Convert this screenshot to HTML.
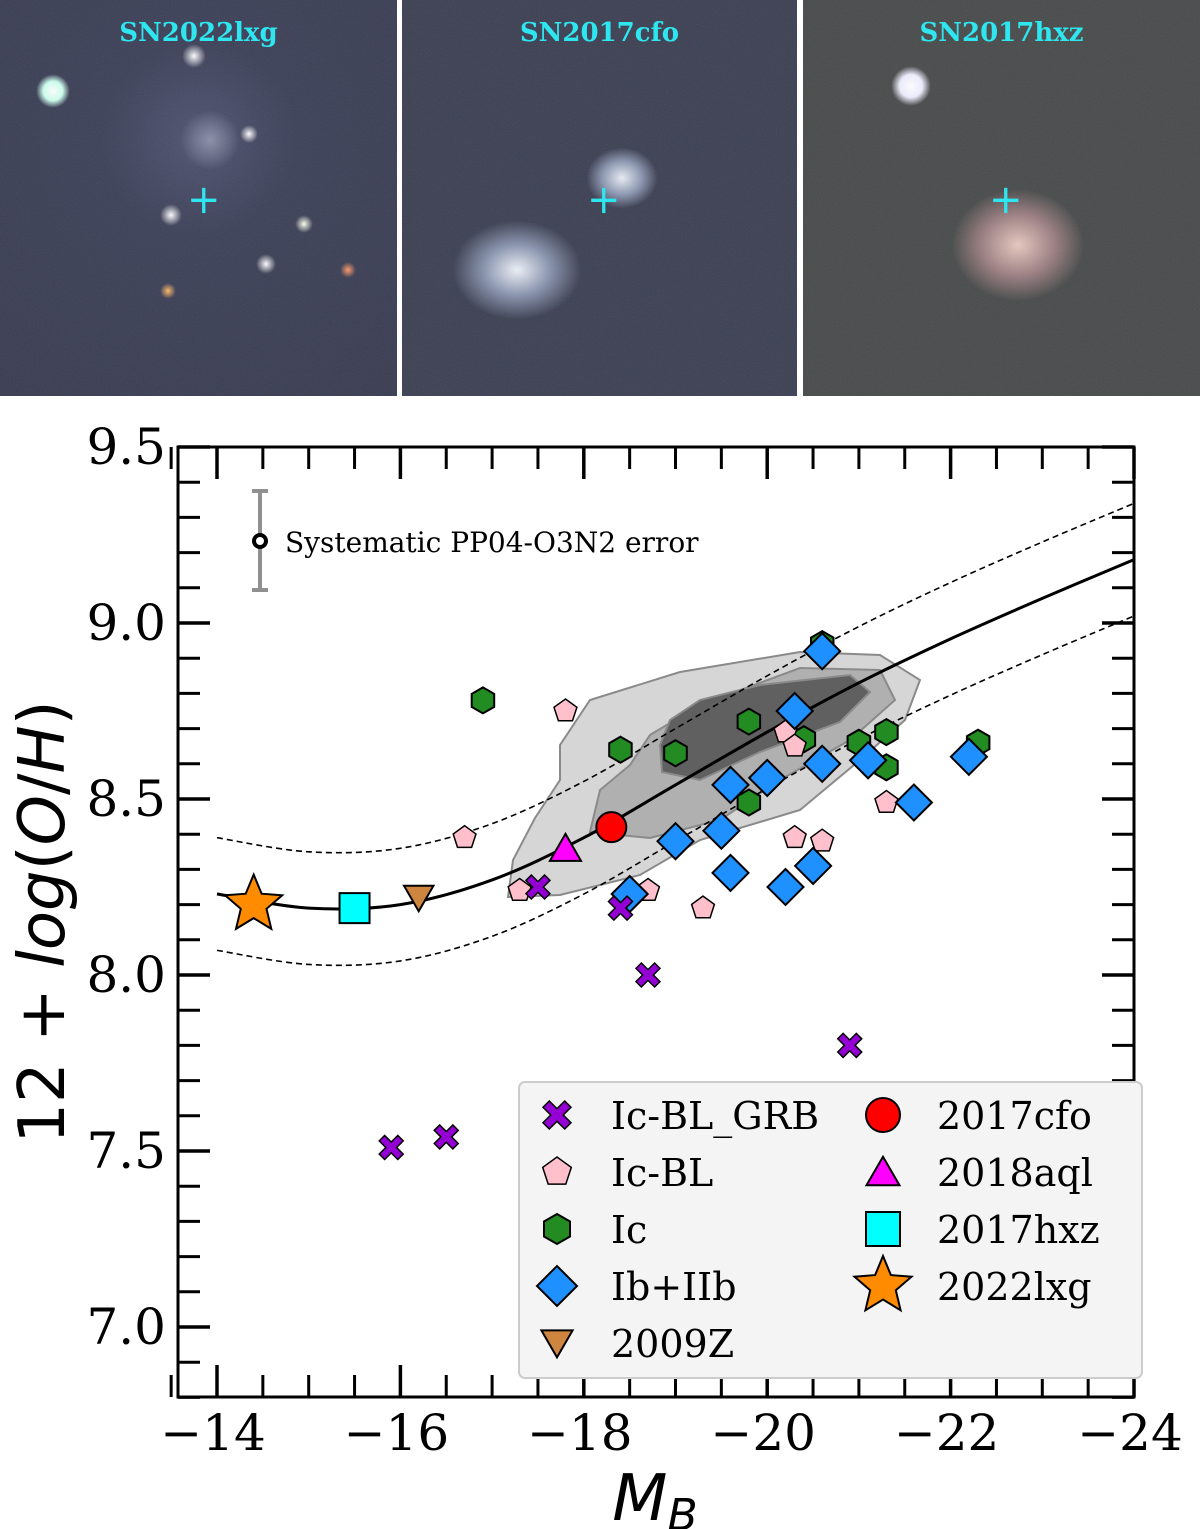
<!DOCTYPE html>
<html><head><meta charset="utf-8"><style>
body{margin:0;background:#fff;width:1200px;height:1529px;overflow:hidden;font-family:"DejaVu Sans","Liberation Sans",sans-serif}
.panel{position:absolute;top:0;height:396px;overflow:hidden}
.lab{position:absolute;top:18px;width:100%;text-align:center;color:#2ee6f0;font:bold 26px "DejaVu Serif","Liberation Serif",serif;z-index:3}
.cross{position:absolute;color:#2ee6f0;font:40px "DejaVu Sans",sans-serif;line-height:1;z-index:3}
.noise{position:absolute;left:0;top:0;opacity:0.12;z-index:2}
</style></head><body>
<div class="panel" style="left:0;width:397px;background:radial-gradient(circle at 50% 35%,#4e5370 0%,#3b3f57 30%,#383b50 100%)">
 <div style="position:absolute;left:36px;top:74px;width:34px;height:34px;border-radius:50%;background:radial-gradient(#fff,#cfe 40%,rgba(200,220,240,0) 70%)"></div>
 <div style="position:absolute;left:182px;top:44px;width:24px;height:24px;border-radius:50%;background:radial-gradient(#fff,rgba(220,220,240,0) 70%)"></div>
 <div style="position:absolute;left:180px;top:110px;width:60px;height:60px;border-radius:50%;background:radial-gradient(#8a8fa8,rgba(90,95,120,0) 70%)"></div>
 <div style="position:absolute;left:160px;top:204px;width:22px;height:22px;border-radius:50%;background:radial-gradient(#fff,rgba(255,220,180,0) 70%)"></div>
 <div style="position:absolute;left:256px;top:254px;width:20px;height:20px;border-radius:50%;background:radial-gradient(#fff,rgba(200,220,255,0) 70%)"></div>
 <div style="position:absolute;left:240px;top:125px;width:18px;height:18px;border-radius:50%;background:radial-gradient(#fff,rgba(200,220,255,0) 70%)"></div>
 <div style="position:absolute;left:295px;top:215px;width:18px;height:18px;border-radius:50%;background:radial-gradient(#ffe,rgba(255,240,180,0) 70%)"></div>
 <div style="position:absolute;left:160px;top:283px;width:16px;height:16px;border-radius:50%;background:radial-gradient(#fb6,rgba(255,160,80,0) 70%)"></div>
 <div style="position:absolute;left:340px;top:262px;width:16px;height:16px;border-radius:50%;background:radial-gradient(#f96,rgba(255,130,80,0) 70%)"></div>
 <svg class="noise" width="397" height="396"><filter id="n1"><feTurbulence type="fractalNoise" baseFrequency="0.9" numOctaves="2"/></filter><rect width="397" height="396" filter="url(#n1)"/></svg>
 <div class="lab">SN2022lxg</div>
 <div class="cross" style="left:187px;top:180px">+</div>
</div>
<div class="panel" style="left:402px;width:395px;background:#3b3f52">
 <div style="position:absolute;left:185px;top:148px;width:70px;height:60px;border-radius:50%;background:radial-gradient(#e8eef5,#8a95b0 40%,rgba(60,65,85,0) 72%)"></div>
 <div style="position:absolute;left:50px;top:220px;width:130px;height:100px;border-radius:50%;background:radial-gradient(#eef2f8,#8a95b0 35%,rgba(60,65,85,0) 70%)"></div>
 <svg class="noise" width="395" height="396"><rect width="395" height="396" filter="url(#n1)"/></svg>
 <div class="lab">SN2017cfo</div>
 <div class="cross" style="left:185px;top:180px">+</div>
</div>
<div class="panel" style="left:803px;width:397px;background:#474a4a">
 <div style="position:absolute;left:88px;top:66px;width:40px;height:40px;border-radius:50%;background:radial-gradient(#fff,#eef 40%,rgba(200,200,200,0) 70%)"></div>
 <div style="position:absolute;left:150px;top:190px;width:130px;height:110px;border-radius:50%;background:radial-gradient(#e8c8c0,#9a7d80 40%,rgba(70,72,72,0) 72%)"></div>
 <svg class="noise" width="397" height="396"><rect width="397" height="396" filter="url(#n1)"/></svg>
 <div class="lab">SN2017hxz</div>
 <div class="cross" style="left:186px;top:180px">+</div>
</div>
<svg id="chart" width="1200" height="1529" style="position:absolute;left:0;top:0" xmlns="http://www.w3.org/2000/svg"></svg>
<script>
const NS="http://www.w3.org/2000/svg";
const svg=document.getElementById('chart');
const grbX=[-15.9,-16.5,-17.5,-18.4,-18.7,-20.9];
const grbY=[7.51,7.54,8.25,8.19,8.00,7.80];
const icblX=[-16.7,-17.3,-17.8,-18.7,-19.3,-20.2,-20.3,-20.3,-20.6,-21.3];
const icblY=[8.39,8.24,8.75,8.24,8.19,8.69,8.65,8.39,8.38,8.49];
const icX=[-16.9,-18.4,-19.0,-19.8,-19.8,-20.4,-20.6,-21.0,-21.3,-21.3,-22.3];
const icY=[8.78,8.64,8.63,8.72,8.49,8.67,8.94,8.66,8.69,8.59,8.66];
const ibX=[-20.6,-20.3,-19.6,-20.0,-20.6,-21.1,-21.6,-22.2,-19.0,-19.5,-18.5,-19.6,-20.2,-20.5];
const ibY=[8.92,8.75,8.54,8.56,8.60,8.61,8.49,8.62,8.38,8.41,8.23,8.29,8.25,8.31];
const fitX=[-14,-15,-16,-17,-18,-19,-20,-21,-22,-23,-24];
const fitY=[8.23,8.19,8.20,8.27,8.39,8.54,8.69,8.83,8.955,9.07,9.18];
const fitOffset=0.16;
const xTicks=[-14,-16,-18,-20,-22,-24];
const yTicks=[7.0,7.5,8.0,8.5,9.0,9.5];
const X0=178,X1=1134,Y0=447,Y1=1397;
const sx=m=>217+(-14-m)*91.7;
const sy=v=>447+(9.5-v)*352;
function el(t,a,p){const e=document.createElementNS(NS,t);for(const k in a)e.setAttribute(k,a[k]);(p||svg).appendChild(e);return e;}
const cont=[["#d6d6d6","M508,897 L513,860 535,818 560,780 560,745 590,700 680,672 800,652 880,655 920,680 905,720 860,760 800,810 700,840 640,875 560,895Z"],
["#b0b0b0","M590,832 L600,790 630,765 650,735 700,705 800,668 880,670 895,700 850,740 780,780 720,820 650,838Z"],
["#606060","M660,745 L670,720 700,700 760,685 850,675 870,692 840,722 760,752 700,780 662,772Z"]];
cont.forEach(c=>{const p=el('path',{d:c[1],fill:c[0],stroke:'#8a8a8a','stroke-width':2});

});
function smoothFit(off){const pts=[];for(let i=0;i<fitX.length;i++)pts.push([sx(fitX[i]),sy(fitY[i]+off)]);
let d='M'+pts[0][0]+','+pts[0][1];for(let i=0;i<pts.length-1;i++){const p0=pts[Math.max(i-1,0)],p1=pts[i],p2=pts[i+1],p3=pts[Math.min(i+2,pts.length-1)];
d+=' C'+(p1[0]+(p2[0]-p0[0])/6)+','+(p1[1]+(p2[1]-p0[1])/6)+' '+(p2[0]-(p3[0]-p1[0])/6)+','+(p2[1]-(p3[1]-p1[1])/6)+' '+p2[0]+','+p2[1];}return d;}
let fl=el('path',{d:smoothFit(0),fill:'none',stroke:'#000','stroke-width':3});


[fitOffset,-fitOffset].forEach(o=>{const p=el('path',{d:smoothFit(o),fill:'none',stroke:'#000','stroke-width':1.6,'stroke-dasharray':'6,4'});

});
function poly(cx,cy,n,r,rot){let s=[];for(let i=0;i<n;i++){const a=rot+i*2*Math.PI/n;s.push((cx+r*Math.cos(a)).toFixed(1)+','+(cy+r*Math.sin(a)).toFixed(1));}return s.join(' ');}
function marker(type,cx,cy,s){
 if(type==='x'){const r=s,w=s*0.45;return el('path',{d:`M${cx-r},${cy-r+w}L${cx-r+w},${cy-r}L${cx},${cy-w}L${cx+r-w},${cy-r}L${cx+r},${cy-r+w}L${cx+w},${cy}L${cx+r},${cy+r-w}L${cx+r-w},${cy+r}L${cx},${cy+w}L${cx-r+w},${cy+r}L${cx-r},${cy+r-w}L${cx-w},${cy}Z`,fill:'#9400d3',stroke:'#000','stroke-width':1.5});}
 if(type==='pent')return el('polygon',{points:poly(cx,cy,5,s,-Math.PI/2),fill:'#ffc0cb',stroke:'#000','stroke-width':1.5});
 if(type==='hex')return el('polygon',{points:poly(cx,cy,6,s,-Math.PI/2),fill:'#228b22',stroke:'#000','stroke-width':2});
 if(type==='dia')return el('polygon',{points:poly(cx,cy,4,s,0),fill:'#1e90ff',stroke:'#000','stroke-width':2});
 if(type==='tri')return el('polygon',{points:poly(cx,cy+s*0.2,3,s,-Math.PI/2),fill:'#ff00ff',stroke:'#000','stroke-width':2});
 if(type==='vtri')return el('polygon',{points:poly(cx,cy-s*0.2,3,s,Math.PI/2),fill:'#cd853f',stroke:'#000','stroke-width':2});
 if(type==='circ')return el('circle',{cx,cy,r:s,fill:'#ff0000',stroke:'#000','stroke-width':2});
 if(type==='sq')return el('rect',{x:cx-s,y:cy-s,width:2*s,height:2*s,fill:'#00ffff',stroke:'#000','stroke-width':2});
 if(type==='star'){let p=[];for(let i=0;i<10;i++){const r=i%2?s*0.45:s,a=-Math.PI/2+i*Math.PI/5;p.push((cx+r*Math.cos(a)).toFixed(1)+','+(cy+r*Math.sin(a)).toFixed(1));}return el('polygon',{points:p.join(' '),fill:'#ff8c00',stroke:'#000','stroke-width':2});}
}
icX.forEach((m,i)=>{const e=marker('hex',sx(m),sy(icY[i]),13);

});
icblX.forEach((m,i)=>{const e=marker('pent',sx(m),sy(icblY[i]),12);

});
ibX.forEach((m,i)=>{const e=marker('dia',sx(m),sy(ibY[i]),18);

});
grbX.forEach((m,i)=>{const e=marker('x',sx(m),sy(grbY[i]),12);

});
const specialNames=['sn2009z-point','sn2017hxz-point','sn2022lxg-point','sn2017cfo-point','sn2018aql-point'];
const specialTypes=['vtri','sq','star','circ','tri'];
const specialX=[-16.2,-15.5,-14.4,-18.3,-17.8];
const specialY=[8.22,8.19,8.20,8.42,8.36];
const specialSize=[17,15,30,15,18];
specialX.forEach((m,i)=>{const e=marker(specialTypes[i],sx(m),sy(specialY[i]),specialSize[i]);

});
const eb=el('g',{});


el('line',{x1:260,y1:491,x2:260,y2:590,stroke:'#909090','stroke-width':4},eb);
el('line',{x1:252,y1:491,x2:268,y2:491,stroke:'#909090','stroke-width':4},eb);
el('line',{x1:252,y1:590,x2:268,y2:590,stroke:'#909090','stroke-width':4},eb);
el('circle',{cx:260,cy:541,r:6,fill:'#fff',stroke:'#000','stroke-width':4},eb);
const et=el('text',{x:285,y:552,'font-size':28,'font-family':'DejaVu Serif, Liberation Serif, serif'});
et.textContent='Systematic PP04-O3N2 error';


const fr=el('rect',{x:X0,y:Y0,width:X1-X0,height:Y1-Y0,fill:'none',stroke:'#000','stroke-width':3});


for(let v=6.8;v<=9.5001;v+=0.1){const y=sy(v);const maj=Math.abs(v*2-Math.round(v*2))<1e-6;const L=maj?32:22;
el('line',{x1:X0,y1:y,x2:X0+L,y2:y,stroke:'#000','stroke-width':maj?3.5:3});el('line',{x1:X1,y1:y,x2:X1-L,y2:y,stroke:'#000','stroke-width':maj?3.5:3});}
for(let m=-13.5;m>=-24.0001;m-=0.5){const x=sx(m);const maj=Math.abs(m/2-Math.round(m/2))<1e-6;const L=maj?32:22;
el('line',{x1:x,y1:Y0,x2:x,y2:Y0+L,stroke:'#000','stroke-width':maj?3.5:3});el('line',{x1:x,y1:Y1,x2:x,y2:Y1-L,stroke:'#000','stroke-width':maj?3.5:3});}
yTicks.forEach(v=>{const t=el('text',{x:166,y:sy(v)+17,'text-anchor':'end','font-size':50,'font-family':'DejaVu Serif, Liberation Serif, serif'});t.textContent=v.toFixed(1);

});
xTicks.forEach(m=>{const t=el('text',{x:sx(m)-4,y:1450,'text-anchor':'middle','font-size':50,'font-family':'DejaVu Serif, Liberation Serif, serif'});t.textContent='\u2212'+(-m);

});
const xl=el('text',{x:655,y:1520,'text-anchor':'middle','font-size':64,'font-style':'italic'});
xl.innerHTML='M<tspan font-size="44" dy="10">B</tspan>';


const yl=el('text',{x:0,y:0,'text-anchor':'middle','font-size':64,transform:'translate(64,922) rotate(-90)'});
yl.innerHTML='12 + <tspan font-style="italic">log</tspan>(<tspan font-style="italic">O</tspan>/<tspan font-style="italic">H</tspan>)';


const lg=el('g',{});


el('rect',{x:519,y:1082,width:623,height:296,rx:6,fill:'#f4f4f4',stroke:'#ccc','stroke-width':2},lg);
const legNames=['Ic-BL_GRB','Ic-BL','Ic','Ib+IIb','2009Z','2017cfo','2018aql','2017hxz','2022lxg'];
const legTypes=['x','pent','hex','dia','vtri','circ','tri','sq','star'];
const legSize=[14,15,15,20,18,17,19,17,30];
legNames.forEach((n,i)=>{const col=i<5?0:1,row=i<5?i:i-5;const cx=col?883:557,cy=1115+row*57;
const m=marker(legTypes[i],cx,cy,legSize[i]);lg.appendChild(m);


const t=el('text',{x:col?937:611,y:cy+14,'font-size':38,'font-family':'DejaVu Serif, Liberation Serif, serif'},lg);t.textContent=n;

});
</script>
</body></html>
